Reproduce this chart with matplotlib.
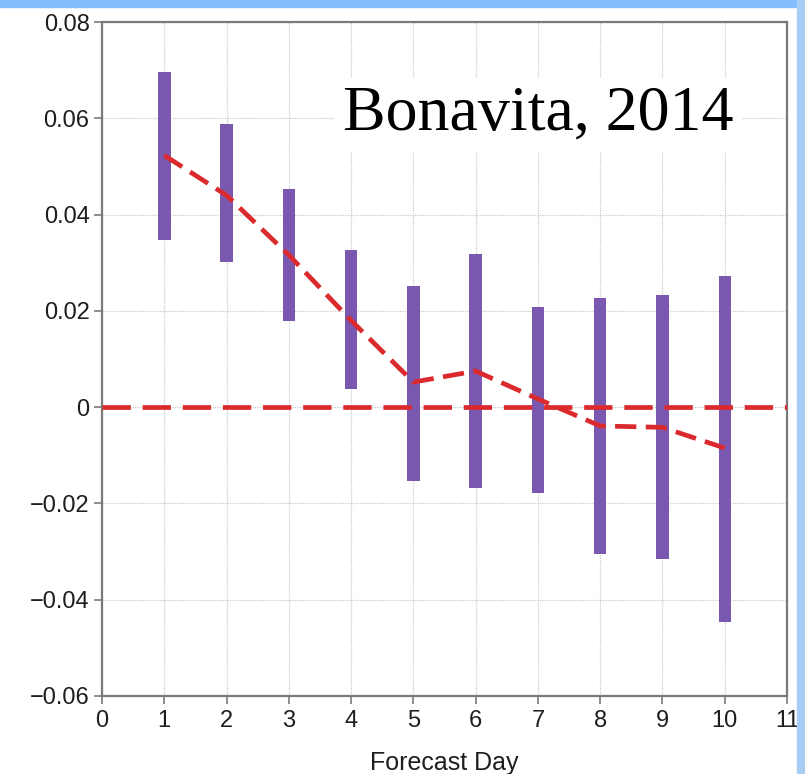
import matplotlib
matplotlib.use("Agg")
import matplotlib.pyplot as plt
import numpy as np

days = [1, 2, 3, 4, 5, 6, 7, 8, 9, 10]
upper = [0.0696, 0.0588, 0.0453, 0.0326, 0.0251, 0.0318, 0.0208, 0.0226, 0.0233, 0.0272]
lower = [0.0347, 0.0301, 0.0179, 0.0037, -0.0154, -0.0168, -0.0179, -0.0305, -0.0316, -0.0447]
mean = [0.0523, 0.0440, 0.0316, 0.0180, 0.0052, 0.0075, 0.0017, -0.0039, -0.0042, -0.0085]

xticks = list(range(0, 12))
yticks = [-0.06, -0.04, -0.02, 0, 0.02, 0.04, 0.06, 0.08]
ytick_labels = ["\u22120.06", "\u22120.04", "\u22120.02", "0", "0.02", "0.04", "0.06", "0.08"]

plt.rcParams["font.family"] = ["Liberation Sans", "DejaVu Sans"]

fig = plt.figure(figsize=(8.05, 7.74), dpi=100)
fig.patch.set_facecolor("white")

# light blue frame strips (top and right)
fig.patches.append(plt.Rectangle((0, 1 - 7 / 774), 1, 7 / 774, transform=fig.transFigure,
                                 color="#84BDFB", zorder=0))
fig.patches.append(plt.Rectangle((1 - 8 / 805, 0), 8 / 805, 1, transform=fig.transFigure,
                                 color="#A9CCF5", zorder=0))

ax = fig.add_axes([102 / 805, 1 - 696 / 774, (787 - 102) / 805, (696 - 22) / 774])
ax.set_xlim(0, 11)
ax.set_ylim(-0.06, 0.08)

ax.set_xticks(xticks)
ax.set_xticklabels([str(t) for t in xticks])
ax.set_yticks(yticks)
ax.set_yticklabels(ytick_labels)
ax.grid(True, color="#c8c8c8", linestyle=(0, (1, 1)), linewidth=0.9)
ax.set_axisbelow(True)

for s in ax.spines.values():
    s.set_color("#7a7a7a")
    s.set_linewidth(1.6)
ax.tick_params(axis="both", colors="#7a7a7a", labelcolor="#1e1e1e", labelsize=17,
               length=6, width=1.2, direction="out", pad=3)
ax.tick_params(axis="x", pad=4)

heights = np.array(upper) - np.array(lower)
ax.bar(days, heights, bottom=lower, width=0.2, color="#7B58B0", zorder=3)

ax.plot([0, 11], [0, 0], color="#DB2A2E", linewidth=3.4, dashes=(6, 2.5), zorder=4)
ax.plot(days, mean, color="#DB2A2E", linewidth=3.4, dashes=(4.5, 2), zorder=5)

ax.set_xlabel("Forecast Day", fontsize=18, color="#1e1e1e", labelpad=14)

ax.text(0.352, 0.840, "Bonavita, 2014", transform=ax.transAxes, ha="left", va="baseline",
        fontsize=46, family=["Liberation Serif", "DejaVu Serif"], color="black", zorder=6,
        bbox=dict(facecolor="white", edgecolor="none", pad=6))

fig.savefig("out.png", dpi=100)
